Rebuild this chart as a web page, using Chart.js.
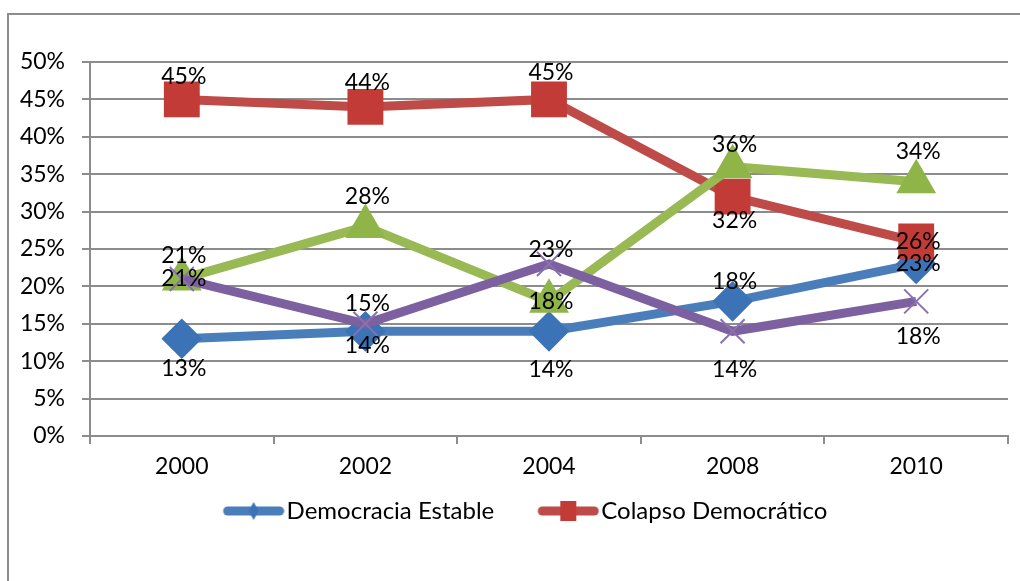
<!DOCTYPE html>
<html>
<head>
<meta charset="utf-8">
<script src="https://cdn.jsdelivr.net/npm/chart.js@4"></script>
<style>
  html, body { margin: 0; padding: 0; background: #fff; overflow: hidden; }
  canvas { display: block; }
</style>
</head>
<body>
<canvas id="grafico" width="1020" height="581"></canvas>
<script>
// datos (porcentajes)
var years = ['2000', '2002', '2004', '2008', '2010'];
var estable = [13, 14, 14, 18, 23];
var colapso = [45, 44, 45, 32, 26];
var serie3 = [21, 28, 18, 36, 34];
var serie4 = [21, 15, 23, 14, 18];
var yTicks = [0, 5, 10, 15, 20, 25, 30, 35, 40, 45, 50];

// desplazamiento vertical de cada etiqueta respecto a su punto
var shiftEstable = [30, 14, 38, -20, 0];
var shiftColapso = [-23, -24, -27, 24, 0];
var shiftSerie3 = [-23, -30, 0, -22, -30];
var shiftSerie4 = [0, -20, -14, 38, 35];

var FONT = 'Lato, "Open Sans", sans-serif';

// icono de leyenda: línea gruesa con marcador en medio (con hueco a la izquierda)
function legendIcon(color, marker, diamond) {
    var c = document.createElement('canvas');
    c.width = 102; c.height = 26;
    var g = c.getContext('2d');
    g.strokeStyle = color;
    g.lineWidth = 9;
    g.lineCap = 'round';
    g.beginPath(); g.moveTo(45, 13); g.lineTo(97, 13); g.stroke();
    g.fillStyle = marker;
    g.beginPath();
    if (diamond) {
        g.moveTo(71, 4); g.lineTo(76, 13); g.lineTo(71, 22); g.lineTo(66, 13);
    } else {
        g.rect(63, 3, 16, 20);
    }
    g.closePath(); g.fill();
    return c;
}

var marco = {
    id: 'marco',
    beforeDraw: function (chart) {
        var ctx = chart.ctx;
        ctx.save();
        ctx.strokeStyle = '#8c8c8c';
        ctx.lineWidth = 2;
        ctx.beginPath();
        ctx.moveTo(1020, 14); ctx.lineTo(8, 14); ctx.lineTo(8, 581);
        ctx.stroke();
        ctx.restore();
    }
};

var etiquetas = {
    id: 'etiquetas',
    afterDatasetsDraw: function (chart) {
        var ctx = chart.ctx;
        ctx.save();
        ctx.font = '23px ' + FONT;
        ctx.fillStyle = '#000';
        ctx.textAlign = 'center';
        ctx.textBaseline = 'middle';
        chart.data.datasets.forEach(function (ds, i) {
            chart.getDatasetMeta(i).data.forEach(function (pt, j) {
                ctx.fillText(ds.data[j] + '%', pt.x + 2, pt.y + ds.shift[j]);
            });
        });
        ctx.restore();
    }
};

var ctx = document.getElementById('grafico');
new Chart(ctx, {
    type: 'line',
    data: {
        labels: years,
        datasets: [{
            label: 'Democracia Estable',
            data: estable,
            shift: shiftEstable,
            borderColor: '#4a7ebb',
            pointBackgroundColor: '#3b73b6',
            pointBorderColor: '#3b73b6',
            pointStyle: 'rectRot',
            pointRadius: 14,
            order: 4
        }, {
            label: 'Colapso Democrático',
            data: colapso,
            shift: shiftColapso,
            borderColor: '#be4b48',
            pointBackgroundColor: '#c33b37',
            pointBorderColor: '#c33b37',
            pointStyle: 'rect',
            pointRadius: 19,
            order: 3
        }, {
            label: 'Serie 3',
            data: serie3,
            shift: shiftSerie3,
            borderColor: '#98b954',
            pointBackgroundColor: '#8fb447',
            pointBorderColor: '#8fb447',
            pointStyle: 'triangle',
            pointRadius: 14,
            order: 2
        }, {
            label: 'Serie 4',
            data: serie4,
            shift: shiftSerie4,
            borderColor: '#7d60a0',
            pointBackgroundColor: '#8a70ad',
            pointBorderColor: '#8a70ad',
            pointStyle: 'crossRot',
            pointRadius: 17,
            pointBorderWidth: 2,
            order: 1
        }]
    },
    options: {
        responsive: false,
        animation: false,
        events: [],
        datasets: { line: { borderWidth: 9, tension: 0 } },
        layout: { autoPadding: false, padding: { top: 62, left: 12, right: 12, bottom: 48 } },
        scales: {
            x: {
                offset: true,
                afterFit: function (s) { s.height = 50; s.paddingLeft = 0; s.paddingRight = 0; },
                grid: { offset: true, drawOnChartArea: false, tickLength: 8, color: '#8c8c8c', lineWidth: 2 },
                border: { color: '#8c8c8c', width: 2 },
                ticks: { color: '#000', font: { family: FONT, size: 23 }, padding: 9 }
            },
            y: {
                min: 0,
                max: 50,
                afterFit: function (s) { s.width = 78; },
                afterBuildTicks: function (s) { s.ticks = yTicks.map(function (v) { return { value: v }; }); },
                grid: { color: '#8c8c8c', lineWidth: 2, tickLength: 8 },
                border: { color: '#8c8c8c', width: 2 },
                ticks: {
                    color: '#000',
                    padding: 17,
                    font: { family: FONT, size: 23 },
                    callback: function (v) { return v + '%'; }
                }
            }
        },
        plugins: {
            tooltip: { enabled: false },
            legend: {
                position: 'bottom',
                labels: {
                    usePointStyle: true,
                    pointStyleWidth: 82,
                    padding: 13,
                    color: '#000',
                    font: { family: FONT, size: 24 },
                    generateLabels: function (chart) {
                        var ds = chart.data.datasets;
                        return [0, 1].map(function (i) {
                            return {
                                text: ds[i].label,
                                datasetIndex: i,
                                pointStyle: legendIcon(ds[i].borderColor, ds[i].pointBackgroundColor, i === 0),
                                fillStyle: ds[i].borderColor,
                                strokeStyle: ds[i].borderColor,
                                lineWidth: 0,
                                fontColor: '#000'
                            };
                        });
                    }
                }
            }
        }
    },
    plugins: [marco, etiquetas]
});
</script>
</body>
</html>
